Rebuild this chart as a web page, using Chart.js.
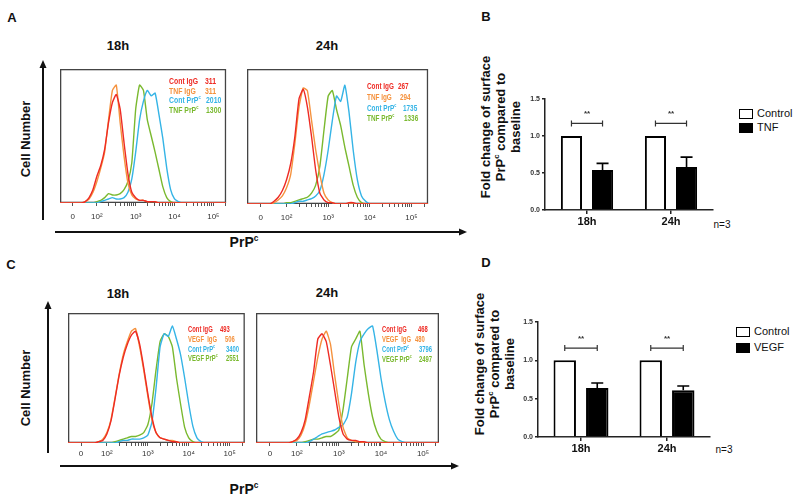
<!DOCTYPE html>
<html>
<head>
<meta charset="utf-8">
<script src="https://cdn.jsdelivr.net/npm/chart.js@4.4.0/dist/chart.umd.min.js"></script>
<style>
body { margin: 0; background: #fff; }
#fig { position: relative; width: 800px; height: 501px; overflow: hidden; font-family: "Liberation Sans", Arial, sans-serif; color: #111; }
.t { position: absolute; white-space: nowrap; line-height: 1; }
.c { transform: translate(-50%, -50%); }
.r { transform: translate(-50%, -50%) rotate(-90deg); text-align: center; }
.b { font-weight: bold; }
canvas { position: absolute; }
.ann { position: absolute; font-size: 8.5px; font-weight: bold; line-height: 1; white-space: nowrap; transform-origin: left center; }
sup { font-size: 60%; vertical-align: super; line-height: 0; }
.lg { position: absolute; box-sizing: border-box; border: 1.5px solid #000; }
</style>
</head>
<body>
<div id="fig">
  <svg width="800" height="501" style="position:absolute;left:0;top:0">
    <g stroke="#111" stroke-width="2">
      <line x1="43" y1="220" x2="43" y2="66"/>
      <line x1="55" y1="232" x2="460" y2="232"/>
      <line x1="48" y1="453" x2="48" y2="307"/>
      <line x1="60" y1="466" x2="452" y2="466"/>
    </g>
    <g fill="#111">
      <polygon points="43,60 39.5,68 46.5,68"/>
      <polygon points="467,232 459,228.5 459,235.5"/>
      <polygon points="48,301 44.5,309 51.5,309"/>
      <polygon points="459,466 451,462.5 451,469.5"/>
    </g>
  </svg>

  <div class="t c b" style="left:12px;top:17px;font-size:13px">A</div>
  <div class="t c b" style="left:486px;top:16px;font-size:13px">B</div>
  <div class="t c b" style="left:11px;top:264px;font-size:13px">C</div>
  <div class="t c b" style="left:486px;top:262px;font-size:13px">D</div>

  <div class="t c b" style="left:118px;top:45px;font-size:13px">18h</div>
  <div class="t c b" style="left:327px;top:45px;font-size:13px">24h</div>
  <div class="t c b" style="left:118px;top:293px;font-size:13px">18h</div>
  <div class="t c b" style="left:327px;top:292px;font-size:13px">24h</div>

  <div class="t r b" style="left:25px;top:139px;font-size:13px">Cell Number</div>
  <div class="t r b" style="left:25px;top:388px;font-size:13px">Cell Number</div>
  <div class="t c b" style="left:244px;top:242px;font-size:14px">PrP<sup>c</sup></div>
  <div class="t c b" style="left:244px;top:489px;font-size:14px">PrP<sup>c</sup></div>

  <div class="t r b" style="left:500px;top:127px;font-size:13px;line-height:15px">Fold change of surface<br>PrP<sup>c</sup> compared to<br>baseline</div>
  <div class="t r b" style="left:494px;top:364px;font-size:13px;line-height:15px">Fold change of surface<br>PrP<sup>c</sup> compared to<br>baseline</div>

  <div class="t c" style="left:722px;top:225px;font-size:10px">n=3</div>
  <div class="t c" style="left:724px;top:450px;font-size:10px">n=3</div>

  <div class="lg" style="left:739px;top:109px;width:14px;height:10px;background:#fff"></div>
  <div class="t" style="left:757px;top:108px;font-size:11px">Control</div>
  <div class="lg" style="left:739px;top:123px;width:14px;height:10px;background:#000"></div>
  <div class="t" style="left:757px;top:122px;font-size:11px">TNF</div>
  <div class="lg" style="left:736px;top:327px;width:14px;height:10px;background:#fff"></div>
  <div class="t" style="left:754px;top:326px;font-size:11px">Control</div>
  <div class="lg" style="left:736px;top:343px;width:14px;height:10px;background:#000"></div>
  <div class="t" style="left:754px;top:342px;font-size:11px">VEGF</div>

  <canvas id="histA18" width="171" height="156" style="left:60px;top:69px"></canvas>
  <canvas id="histA24" width="183" height="157" style="left:247px;top:69px"></canvas>
  <canvas id="histC18" width="177" height="150" style="left:68px;top:313px"></canvas>
  <canvas id="histC24" width="183" height="150" style="left:256px;top:313px"></canvas>
  <canvas id="barB" width="205" height="141" style="left:510px;top:91px"></canvas>
  <canvas id="barD" width="209" height="145" style="left:503px;top:314px"></canvas>
</div>

<script>
// fluorescence position in decades (log10 of intensity), shared by all histograms
const binPos = [1.0,1.1,1.2,1.3,1.4,1.5,1.6,1.7,1.8,1.9,2.0,2.1,2.2,2.3,2.4,2.5,2.6,2.7,2.8,2.9,3.0,3.1,3.2,3.3,3.4,3.5,3.6,3.7,3.8,3.9,4.0,4.1,4.2,4.3,4.4,4.5,4.6,4.7,4.8,4.9,5.0,5.1,5.2,5.3,5.4];

// A, 18h (TNF)
const a18ContIgG = [0,0,0,0,0,0,0, 1,4,10,20,28,40,60,75,81,70,45,22,8,4,2,2,1,1,1, 0,0,0,0,0,0,0,0,0,0, 0,0,0,0,0,0,0,0,0];
const a18TnfIgG  = [0,0,0,0,0,0,0, 1,3,8,16,26,38,62,84,88,60,35,15,6,3,2,2,1,1,1, 0,0,0,0,0,0,0,0,0,0, 0,0,0,0,0,0,0,0,0];
const a18ContPrP = [0,0,0,0,0,0,0,0,0,0, 0, 1,2,3,4,3,3,4,8,18,38,62,76,84,80,82,66,48,26,10,3,1, 0,0,0,0,0,0,0,0,0,0, 0,0,0];
const a18TnfPrP  = [0,0,0,0,0,0,0,0,0,0, 1,2,4,7,6,6,7,10,16,30,70,88,84,62,50,38,25,12,4,1, 0,0,0,0,0,0,0,0,0,0, 0,0,0,0,0];
// A, 24h (TNF)
const a24ContIgG = [0,0,0,0,0,0,0, 2,5,10,18,30,50,78,85,72,50,25,8,3,1,1,0,0,0,1,1, 0,0,0,0,0,0,0,0,0,0, 0,0,0,0,0,0,0,0];
const a24TnfIgG  = [0,0,0,0,0,0,0, 1,3,6,12,22,45,72,86,84,62,40,22,8,3,1, 0,0,0,0,0,0,0,0,0,0, 0,0,0,0,0,0,0,0,0,0, 0,0,0];
const a24ContPrP = [0,0,0,0,0,0,0,0,0,0, 0,0, 1,2,2,3,4,6,10,22,40,62,80,76,88,68,40,18,6,2, 0,0,0,0,0,0,0,0,0,0, 0,0,0,0,0];
const a24TnfPrP  = [0,0,0,0,0,0,0,0,0,0, 1,1,2,3,4,5,8,14,28,55,80,84,70,58,42,28,14,5,1, 0,0,0,0,0,0,0,0,0,0, 0,0,0,0,0,0];
// C, 18h (VEGF)
const c18ContIgG = [0,0,0,0,0,0,0,0, 1,2,7,17,34,52,66,76,83,86,76,58,38,20,8,4,3,2,1,1, 0,0,0,0,0,0,0,0,0,0, 0,0,0,0,0,0,0];
const c18VegfIgG = [0,0,0,0,0,0,0,0, 1,3,8,18,35,53,68,78,86,88,74,56,36,18,8,4,3,2,2,1, 0,0,0,0,0,0,0,0,0,0, 0,0,0,0,0,0,0];
const c18ContPrP = [0,0,0,0,0,0,0,0,0,0, 0,0,0, 1,2,2,3,3,3,4,6,16,42,74,84,82,90,80,68,50,30,13,4,1, 0,0,0,0,0,0,0,0,0,0, 0];
const c18VegfPrP = [0,0,0,0,0,0,0,0,0,0, 0,0, 1,2,3,4,5,5,6,8,14,30,56,78,84,82,74,50,30,12,4,1, 0,0,0,0,0,0,0,0,0,0, 0,0,0];
// C, 24h (VEGF)
const c24ContIgG = [0,0,0,0,0,0,0,0,0, 1,3,8,18,36,55,80,84,78,60,40,20,7,3,2,2,1,1, 0,0,0,0,0,0,0,0,0,0, 0,0,0,0,0,0,0,0];
const c24VegfIgG = [0,0,0,0,0,0,0,0,0, 1,2,6,15,30,48,66,80,86,76,52,30,12,4,2,1,1, 0,0,0,0,0,0,0,0,0,0, 0,0,0,0,0,0,0,0,0];
const c24ContPrP = [0,0,0,0,0,0,0,0,0,0, 0,0,0, 1,3,5,7,8,9,10,12,14,20,38,62,78,84,88,90,72,50,32,18,9,3,1, 0,0,0,0,0,0,0,0,0];
const c24VegfPrP = [0,0,0,0,0,0,0,0,0,0, 0,0, 1,2,3,3,4,5,5,7,10,26,50,74,80,86,60,38,20,9,3,1, 0,0,0,0,0,0,0,0,0,0, 0,0,0];

// axis tick labels of the histograms
const decadeLabels = ['0', '10²', '10³', '10⁴', '10⁵'];
const decadeValues = [2, 3, 4, 5];

// bar charts (B: TNF, D: VEGF)
const barCats = ['18h', '24h'];
const tnfControl = [1.0, 1.0];
const tnfMean = [0.54, 0.58];
const tnfErr = [0.09, 0.135];
const tnfSig = [1.17, 1.17];
const vegfControl = [1.0, 1.0];
const vegfMean = [0.64, 0.61];
const vegfErr = [0.065, 0.055];
const vegfSig = [1.16, 1.16];

// legend text inside each histogram: [left, top, name, numberLeft, number, colour, squeeze]
const RED = '#ee2b24', ORANGE = '#f5923e', BLUE = '#35b4e6', GREEN = '#7ab92f';
const annotations = [
  [169, 81, 'Cont IgG', 205, '311', RED, 0.81],
  [169, 91, 'TNF IgG', 205, '311', ORANGE, 0.81],
  [169, 100, 'Cont PrP<sup>c</sup>', 206, '2010', BLUE, 0.81],
  [169, 110, 'TNF PrP<sup>c</sup>', 206, '1300', GREEN, 0.81],
  [367, 86, 'Cont IgG', 398, '267', RED, 0.75],
  [367, 97, 'TNF IgG', 400, '294', ORANGE, 0.75],
  [367, 108, 'Cont PrP<sup>c</sup>', 403, '1735', BLUE, 0.75],
  [367, 118, 'TNF PrP<sup>c</sup>', 404, '1336', GREEN, 0.75],
  [188, 329, 'Cont IgG', 220, '493', RED, 0.69],
  [188, 339, 'VEGF&nbsp; IgG', 225, '506', ORANGE, 0.69],
  [188, 349, 'Cont PrP<sup>c</sup>', 226, '3400', BLUE, 0.69],
  [188, 358, 'VEGF PrP<sup>c</sup>', 226, '2551', GREEN, 0.69],
  [382, 329, 'Cont IgG', 418, '468', RED, 0.69],
  [382, 339, 'VEGF&nbsp; IgG', 415, '480', ORANGE, 0.69],
  [382, 349, 'Cont PrP<sup>c</sup>', 419, '3796', BLUE, 0.69],
  [382, 359, 'VEGF PrP<sup>c</sup>', 419, '2497', GREEN, 0.69],
];

const fig = document.getElementById('fig');
annotations.forEach(([x, y, name, nx, num, col, sq]) => {
  [[x, name], [nx, num]].forEach(([left, txt]) => {
    const d = document.createElement('div');
    d.className = 'ann';
    d.style.cssText = `left:${left}px;top:${y}px;color:${col};transform:translateY(-50%) scaleX(${sq})`;
    d.innerHTML = txt;
    fig.appendChild(d);
  });
});

const FONT = '"Liberation Sans", Arial, sans-serif';

const framePlugin = {
  id: 'frame',
  beforeDatasetsDraw(chart) {
    const { ctx, chartArea: a } = chart;
    ctx.save();
    ctx.strokeStyle = '#444';
    ctx.lineWidth = 1.3;
    ctx.strokeRect(a.left + 0.65, a.top + 0.65, a.width - 1.3, a.height - 1.3);
    ctx.restore();
  }
};

function drawHist(id, xMin, xMax, zeroAt, labelPad, axisH, series) {
  const majors = [zeroAt].concat(decadeValues);
  const minors = [];
  [2, 3, 4, 5].forEach(d => {
    for (let k = 2; k <= 9; k++) {
      const v = d + Math.log10(k);
      if (v < xMax) minors.push(v);
    }
  });
  const tickVals = majors.concat(minors).sort((p, q) => p - q);

  new Chart(document.getElementById(id), {
    type: 'line',
    data: {
      datasets: series.map(s => ({
        data: binPos.map((x, i) => ({ x: x, y: s.values[i] })),
        borderColor: s.color,
        borderWidth: 1.4,
        pointRadius: 0,
        tension: 0.15,
        fill: false
      }))
    },
    options: {
      responsive: false,
      animation: false,
      layout: { padding: 0 },
      plugins: { legend: { display: false }, tooltip: { enabled: false } },
      scales: {
        x: {
          type: 'linear',
          min: xMin,
          max: xMax,
          afterBuildTicks: sc => { sc.ticks = tickVals.map(v => ({ value: v })); },
          afterFit: sc => { sc.height = axisH; },
          ticks: {
            autoSkip: false,
            maxRotation: 0,
            padding: labelPad,
            color: '#333',
            font: { size: 8, family: FONT },
            callback: v => {
              const i = majors.findIndex(m => Math.abs(m - v) < 1e-6);
              return i >= 0 ? decadeLabels[i] : '';
            }
          },
          grid: { drawOnChartArea: false, drawTicks: true, tickLength: 3, color: '#555' },
          border: { display: false }
        },
        y: { display: false, min: 0, max: 100 }
      }
    },
    plugins: [framePlugin]
  });
}

drawHist('histA18', 1.05, 5.33, 1.38, 6, 22, [
  { values: a18ContIgG, color: RED },
  { values: a18TnfIgG, color: ORANGE },
  { values: a18ContPrP, color: BLUE },
  { values: a18TnfPrP, color: GREEN }
]);
drawHist('histA24', 1.05, 5.40, 1.38, 6, 22, [
  { values: a24ContIgG, color: RED },
  { values: a24TnfIgG, color: ORANGE },
  { values: a24ContPrP, color: BLUE },
  { values: a24TnfPrP, color: GREEN }
]);
drawHist('histC18', 1.05, 5.37, 1.37, 3, 20, [
  { values: c18ContIgG, color: RED },
  { values: c18VegfIgG, color: ORANGE },
  { values: c18ContPrP, color: BLUE },
  { values: c18VegfPrP, color: GREEN }
]);
drawHist('histC24', 1.03, 5.38, 1.36, 3, 20, [
  { values: c24ContIgG, color: RED },
  { values: c24VegfIgG, color: ORANGE },
  { values: c24ContPrP, color: BLUE },
  { values: c24VegfPrP, color: GREEN }
]);

// error bars (up only) and significance brackets
const barDeco = {
  id: 'barDeco',
  afterDatasetsDraw(chart, args, opts) {
    const { ctx } = chart;
    const y = chart.scales.y;
    const m0 = chart.getDatasetMeta(0), m1 = chart.getDatasetMeta(1);
    ctx.save();
    ctx.strokeStyle = '#000';
    ctx.lineWidth = 1.6;
    opts.err.forEach((e, i) => {
      const bar = m1.data[i];
      const top = y.getPixelForValue(chart.data.datasets[1].data[i] + e);
      ctx.beginPath();
      ctx.moveTo(bar.x, bar.y);
      ctx.lineTo(bar.x, top);
      ctx.moveTo(bar.x - 6, top);
      ctx.lineTo(bar.x + 6, top);
      ctx.stroke();
    });
    ctx.strokeStyle = '#333';
    ctx.lineWidth = 1.2;
    ctx.fillStyle = '#333';
    ctx.font = 'bold 8px ' + FONT;
    ctx.textAlign = 'center';
    opts.sig.forEach((lvl, i) => {
      const x0 = m0.data[i].x, x1 = m1.data[i].x;
      const yy = y.getPixelForValue(lvl);
      ctx.beginPath();
      ctx.moveTo(x0, yy); ctx.lineTo(x1, yy);
      ctx.moveTo(x0, yy - 3); ctx.lineTo(x0, yy + 3);
      ctx.moveTo(x1, yy - 3); ctx.lineTo(x1, yy + 3);
      ctx.stroke();
      ctx.fillText('**', (x0 + x1) / 2, yy - 7);
    });
    ctx.restore();
  }
};

function drawBars(id, ctrl, mean, err, sig, catPct, barPct) {
  new Chart(document.getElementById(id), {
    type: 'bar',
    data: {
      labels: barCats,
      datasets: [
        { data: ctrl, backgroundColor: '#fff', borderColor: '#000', borderWidth: 2, categoryPercentage: catPct, barPercentage: barPct },
        { data: mean, backgroundColor: '#000', borderColor: '#000', borderWidth: 2, categoryPercentage: catPct, barPercentage: barPct }
      ]
    },
    options: {
      responsive: false,
      animation: false,
      layout: { padding: { top: 8, right: 2, left: 0, bottom: 0 } },
      plugins: { legend: { display: false }, tooltip: { enabled: false }, barDeco: { err: err, sig: sig } },
      scales: {
        x: {
          afterFit: sc => { sc.height = 22; },
          grid: { drawOnChartArea: false, offset: false, tickLength: 4, color: '#222', lineWidth: 1.5 },
          border: { display: true, color: '#222', width: 1.5 },
          ticks: { color: '#111', padding: 1, font: { size: 11, weight: 'bold', family: FONT } }
        },
        y: {
          min: 0,
          max: 1.5,
          afterFit: sc => { sc.width = 35; },
          ticks: { stepSize: 0.5, padding: 2, color: '#333', font: { size: 7, weight: 'bold', family: FONT }, callback: v => v.toFixed(1) },
          grid: { drawOnChartArea: false, tickLength: 3, color: '#222', lineWidth: 1.5 },
          border: { display: true, color: '#222', width: 1.5 }
        }
      }
    },
    plugins: [barDeco]
  });
}

drawBars('barB', tnfControl, tnfMean, tnfErr, tnfSig, 0.74, 0.68);
drawBars('barD', vegfControl, vegfMean, vegfErr, vegfSig, 0.756, 0.69);
</script>
</body>
</html>
